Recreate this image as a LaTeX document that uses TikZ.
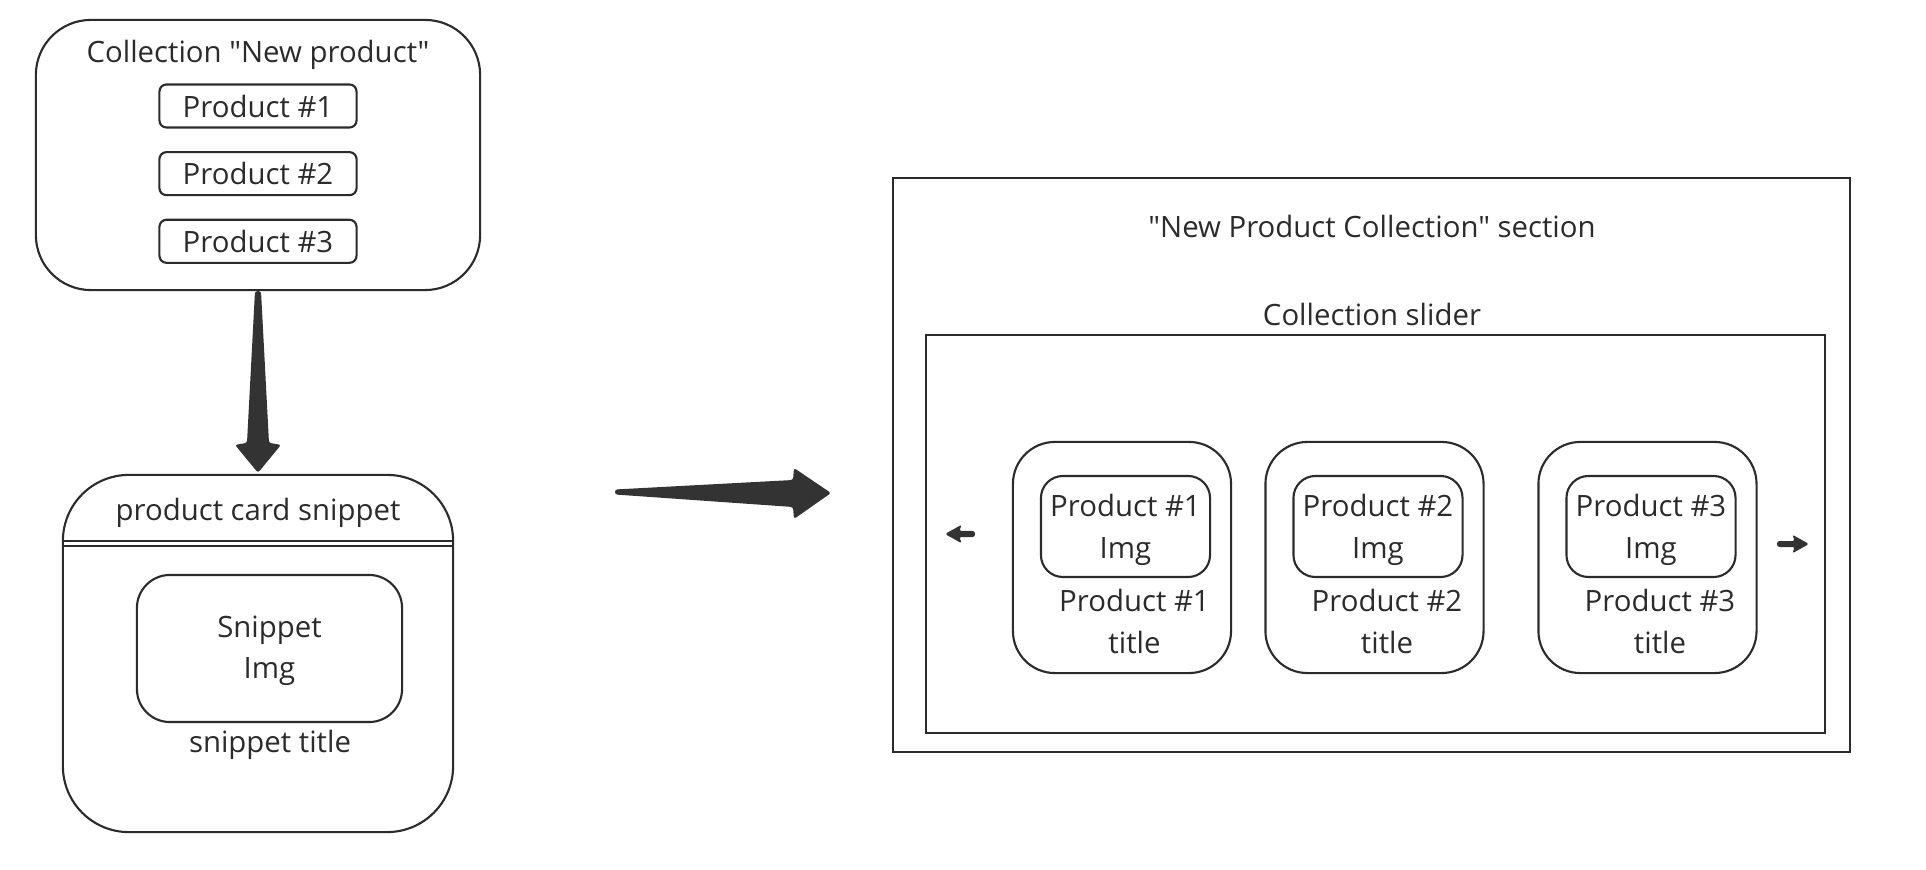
\documentclass[tikz,border=0pt]{standalone}
\usepackage{fontspec}
\setmainfont{Open Sans}[Ligatures=TeXOff]
\usetikzlibrary{positioning,calc,arrows.meta}
\definecolor{ink}{HTML}{2B2B2B}
\definecolor{arrowgray}{HTML}{333333}
\tikzset{
  lbl/.style={ text=ink, font=\fontsize{8.35}{11.8}\selectfont, align=center, inner sep=0pt }
}
\tikzset{
  collbox/.style={ draw=ink, line width=0.6pt, rounded corners=0.55cm, minimum width=4.44cm, minimum height=2.7cm }
}
\tikzset{
  prodbox/.style={ lbl, draw=ink, line width=0.6pt, rounded corners=0.07cm, minimum width=1.97cm, minimum height=0.43cm }
}
\tikzset{
  cardbox/.style={ draw=ink, line width=0.6pt, rounded corners=0.66cm, minimum width=3.9cm, minimum height=3.57cm }
}
\tikzset{
  imgbox/.style={ draw=ink, line width=0.6pt, rounded corners=0.33cm, minimum width=2.65cm, minimum height=1.47cm }
}
\tikzset{
  secbox/.style={ draw=ink, line width=0.6pt, minimum width=9.57cm, minimum height=5.74cm }
}
\tikzset{
  slidecard/.style={ draw=ink, line width=0.6pt, rounded corners=0.42cm, minimum width=2.18cm, minimum height=2.31cm }
}
\tikzset{
  slideimg/.style={ draw=ink, line width=0.6pt, rounded corners=0.22cm, minimum width=1.69cm, minimum height=1.01cm }
}
\tikzset{
  bigarr/.style={ fill=arrowgray, rounded corners=0.7pt }
}

\begin{document}
\begin{tikzpicture}[x=0.01cm, y=-0.01cm]
  \useasboundingbox (0,0) rectangle (1926,870);

  % the collection
  \node[collbox] (coll) at (258,155) {};
  \node[lbl] (colltitle) at (258,55) {Collection "New product"};
  \node[prodbox] (p1) at (258,106) {Product \#1};
  \node[prodbox, below=0.225cm of p1] (p2) {Product \#2};
  \node[prodbox, below=0.225cm of p2] (p3) {Product \#3};

  % the snippet card
  \node[cardbox] (card) at (258,653.5) {};
  \draw[ink, line width=0.6pt] ($(card.north west)+(0,67)$) -- ($(card.north east)+(0,67)$);
  \draw[ink, line width=0.6pt] ($(card.north west)+(0,72)$) -- ($(card.north east)+(0,72)$);
  \node[lbl] (cardtitle) at (258,513) {product card snippet};
  \node[imgbox] (simg) at (269.5,648.5) {};
  \node[lbl] (simgtext) at ($(simg)+(0,2)$) {Snippet\\Img};
  \node[lbl] (stitle) at (270,745) {snippet title};

  \fill[bigarr] ($(coll.south)+(-3,0)$) -- ($(card.north)+(-11,-31)$)
    -- ($(card.north)+(-23,-29)$) -- ($(card.north)+(0,-1)$) -- ($(card.north)+(23,-29)$)
    -- ($(card.north)+(11,-31)$) -- ($(coll.south)+(3,0)$) -- cycle;

  % big arrow to the section
  \coordinate (mvA) at (615,492);
  \coordinate (mvB) at (831,493);
  \fill[bigarr] ($(mvA)+(0,-2.5)$) -- ($(mvB)+(-38,-13)$) -- ($(mvB)+(-37,-25)$)
    -- (mvB) -- ($(mvB)+(-37,26)$) -- ($(mvB)+(-38,14)$) -- ($(mvA)+(0,2.5)$) -- cycle;

  % the section
  \node[secbox] (sec) at (1371.5,465) {};
  \node[lbl] (sectitle) at (1372,226) {"New Product Collection" section};
  \node[lbl] (slidertitle) at (1372,314) {Collection slider};
  \node[secbox, minimum width=8.99cm, minimum height=3.98cm] (slider) at (1375.5,534) {};

  \foreach \i/\cx in {1/1122, 2/1374.5, 3/1647.5} {
    \node[slidecard] (sc\i) at (\cx,557.5) {};
    \node[slideimg] (si\i) at ($(sc\i)+(3.5,-31)$) {};
    \node[lbl] (sit\i) at ($(si\i)+(0,3.5)$) {Product \#\i\\Img};
    \node[lbl] (st\i) at ($(sc\i)+(12.5,64)$) {Product \#\i\\title};
  }

  % slider arrows
  \coordinate (lt) at (975,534);
  \coordinate (lh) at (945,534);
  \fill[bigarr] (lh) -- ($(lh)+(17,-9.5)$) -- ($(lh)+(14,-3)$) -- ($(lt)+(0,-3)$)
    -- ($(lt)+(0,3)$) -- ($(lh)+(14,3)$) -- ($(lh)+(17,9.5)$) -- cycle;
  \coordinate (rt) at (1777,544);
  \coordinate (rh) at (1809,544);
  \fill[bigarr] (rh) -- ($(rh)+(-17,-9.5)$) -- ($(rh)+(-14,-3)$) -- ($(rt)+(0,-3)$)
    -- ($(rt)+(0,3)$) -- ($(rh)+(-14,3)$) -- ($(rh)+(-17,9.5)$) -- cycle;
\end{tikzpicture}
\end{document}
